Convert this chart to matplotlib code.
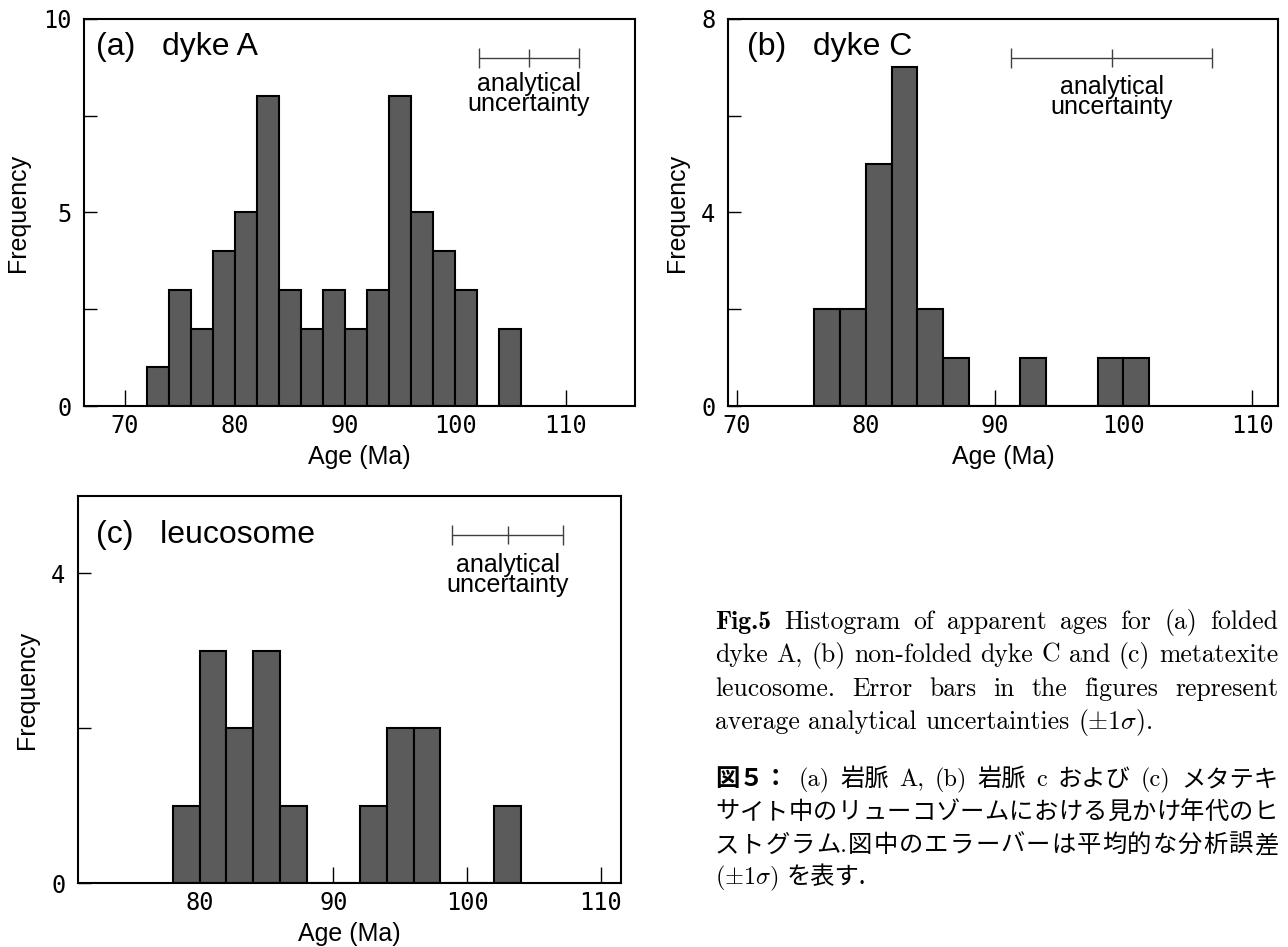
import matplotlib
matplotlib.use("Agg")
import matplotlib.pyplot as plt
from matplotlib.ticker import FixedLocator, NullFormatter

W, H = 1288, 947

# histogram bins (left edges, 2 Ma wide) and counts
edges_a = [72, 74, 76, 78, 80, 82, 84, 86, 88, 90, 92, 94, 96, 98, 100, 102, 104]
counts_a = [1, 3, 2, 4, 5, 8, 3, 2, 3, 2, 3, 8, 5, 4, 3, 0, 2]

edges_b = [76, 78, 80, 82, 84, 86, 88, 90, 92, 94, 96, 98, 100]
counts_b = [2, 2, 5, 7, 2, 1, 0, 0, 1, 0, 0, 1, 1]

edges_c = [78, 80, 82, 84, 86, 88, 90, 92, 94, 96, 98, 100, 102]
counts_c = [1, 3, 2, 3, 1, 0, 0, 1, 2, 2, 0, 0, 1]

# analytical uncertainty bars: centre, half width, height
err_a = (106.65, 4.55, 9.0)
err_b = (99.1, 7.8, 7.2)
err_c = (103.05, 4.15, 4.5)

xticks_a = [70, 80, 90, 100, 110]
xticks_b = [70, 80, 90, 100, 110]
xticks_c = [80, 90, 100, 110]

SANS = "Liberation Sans"
MONO = "DejaVu Sans Mono"
BAR = "#5b5b5b"

plt.rcParams["mathtext.fontset"] = "cm"


def panel(rect, edges, counts, xlim, ylim, ymajor, yminor, xticks, title, title_xy, err, txt_y):
    ax = fig.add_axes(rect)
    ax.bar(edges, counts, width=2, align="edge", color=BAR, edgecolor="black", linewidth=1.5, zorder=2)
    ax.set_xlim(*xlim)
    ax.set_ylim(*ylim)
    ax.set_axisbelow(True)
    ax.xaxis.set_major_locator(FixedLocator(xticks))
    ax.yaxis.set_major_locator(FixedLocator(ymajor))
    ax.yaxis.set_minor_locator(FixedLocator(yminor))
    ax.yaxis.set_minor_formatter(NullFormatter())
    ax.set_xticklabels([str(t) for t in xticks], family=MONO, fontsize=17)
    ax.set_yticklabels([str(t) for t in ymajor], family=MONO, fontsize=17)
    ax.tick_params(axis="x", direction="in", length=11.5, width=1, pad=6, top=False)
    ax.tick_params(axis="y", which="both", direction="in", length=9, width=1, pad=9, right=False)
    for s in ax.spines.values():
        s.set_linewidth(1.5)
    ax.set_xlabel("Age (Ma)", family=SANS, fontsize=18, labelpad=5)
    ax.set_ylabel("Frequency", family=SANS, fontsize=18, labelpad=9)
    ax.text(title_xy[0], title_xy[1], title, transform=ax.transAxes, ha="left", va="top",
            family=SANS, fontsize=23)
    c, h, y = err
    ax.errorbar([c], [y], xerr=[h], fmt="|", color="#404040", ms=13, mew=1,
                elinewidth=1, capsize=7.5, capthick=1)
    ax.text(c, txt_y, "analytical\nuncertainty", ha="center", va="top",
            family=SANS, fontsize=18, linespacing=0.78)
    return ax


fig = plt.figure(figsize=(W / 100, H / 100), dpi=100)

panel([84 / W, 1 - 406 / H, (635 - 84) / W, 387 / H], edges_a, counts_a, (66.3, 116.3), (0, 10),
      [0, 5, 10], [2.5, 7.5], xticks_a, "(a)   dyke A", (0.022, 0.966), err_a, 8.63)
panel([728 / W, 1 - 406 / H, (1278 - 728) / W, 387 / H], edges_b, counts_b, (69.3, 112.0), (0, 8),
      [0, 4, 8], [2, 6], xticks_b, "(b)   dyke C", (0.034, 0.966), err_b, 6.84)
panel([78 / W, 1 - 883 / H, (621 - 78) / W, 387 / H], edges_c, counts_c, (70.9, 111.5), (0, 5),
      [0, 4], [2], xticks_c, "(c)   leucosome", (0.033, 0.937), err_c, 4.26)

# caption, justified word by word
renderer = fig.canvas.get_renderer()
X0, X1 = 715, 1278


def caption_line(words, y, spread=True, family="cmr10", size=18.5):
    items = [w if isinstance(w, tuple) else (w, {}) for w in words]
    ts = []
    for w, extra in items:
        kw = dict(family=family, fontsize=size, va="baseline", ha="left")
        kw.update(extra)
        ts.append(fig.text(0, 1 - y / H, w, **kw))
    ws = [t.get_window_extent(renderer).width for t in ts]
    gap = (X1 - X0 - sum(ws)) / (len(ws) - 1) if spread and len(ws) > 1 else size * 100 / 72 * 0.33
    x = X0
    for t, w in zip(ts, ws):
        t.set_x(x / W)
        x += w + gap


caption_line([("Fig.5", {"family": "cmb10"})] + "Histogram of apparent ages for (a) folded".split(), 629)
caption_line("dyke A, (b) non-folded dyke C and (c) metatexite".split(), 662)
caption_line("leucosome. Error bars in the figures represent".split(), 696)
caption_line(["average", "analytical", "uncertainties", r"$(\pm1\sigma)$."], 729, spread=False)

JP = ["cmr10", "Noto Sans CJK JP"]
caption_line([("図５：", {"weight": "bold", "family": "Noto Sans CJK JP"}), "(a)", "岩脈", "A,", "(b)", "岩脈", "c",
              "および", "(c)", "メタテキ"], 786, family=JP, size=17.5)
caption_line(list("サイト中のリューコゾームにおける見かけ年代のヒ"), 819, family=JP, size=17.5)
caption_line(["ス", "ト", "グ", "ラ", "ム.", "図"] + list("中のエラーバーは平均的な分析誤差"), 852, family=JP, size=17.5)
caption_line([r"$(\pm1\sigma)$", ("を表す.", {"family": "Noto Sans CJK JP"})], 884, spread=False,
             family=JP, size=17.5)

fig.savefig("out.png", dpi=100)
